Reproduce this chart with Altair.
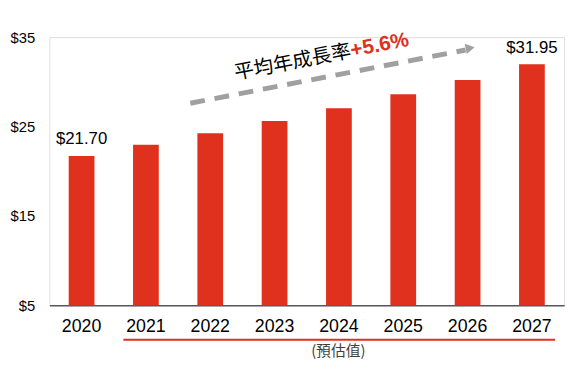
import altair as alt
import pandas as pd

years = ["2020", "2021", "2022", "2023", "2024", "2025", "2026", "2027"]
values = [21.70, 22.95, 24.25, 25.60, 27.05, 28.60, 30.20, 31.95]
value_labels = ["$21.70", "", "", "", "", "", "", "$31.95"]
y_ticks = [5, 15, 25, 35]

# annotation positions in data space (x: bar index, y: value)
arrow_x = [1.69, 5.97]
arrow_y = [27.6, 33.56]
arrow_head = (6.04, 33.78)
cagr_anchor = (4.2, 32.78)
cagr_text = "平均年成長率"
cagr_value = "+5.6%"
underline_x = [0.65, 7.36]
underline_y = 1.14
forecast_label = "(預估值)"
forecast_pos = (3.99, -0.1)

RED = "#E0301E"

df = pd.DataFrame({"year": years, "value": values, "label": value_labels, "base": [5] * len(years)})

yscale = alt.Scale(domain=[5, 35], zero=False, nice=False)
xnum = alt.Scale(domain=[-0.5, 7.5], nice=False, zero=False)

bars = alt.Chart(df).mark_bar(color=RED).encode(
    x=alt.X("year:N", sort=years, title=None,
            scale=alt.Scale(paddingInner=0.6, paddingOuter=0.3),
            axis=alt.Axis(labelAngle=0, ticks=False, labelFontSize=18, labelColor="#000000",
                          labelFont="Liberation Sans", labelPadding=13,
                          domainColor="#595959", domainWidth=1.5)),
    y=alt.Y("value:Q", scale=yscale, title=None,
            axis=alt.Axis(values=y_ticks, format="$d", grid=False, ticks=False, domain=False,
                          labelFontSize=15, labelColor="#000000", labelFont="Liberation Sans",
                          labelPadding=15)),
    y2="base:Q",
)

labels = alt.Chart(df).mark_text(baseline="bottom", dy=-8, fontSize=17,
                                 font="Liberation Sans", color="#000000").encode(
    x=alt.X("year:N", sort=years),
    y=alt.Y("value:Q", scale=yscale),
    text="label:N",
)

bar_layer = alt.layer(bars, labels)

arrow_df = pd.DataFrame({"x": arrow_x, "y": arrow_y})
arrow = alt.Chart(arrow_df).mark_line(color="#A0A0A0", strokeWidth=5, strokeDash=[15, 10]).encode(
    x=alt.X("x:Q", scale=xnum, axis=None),
    y=alt.Y("y:Q", scale=yscale),
)
head_df = pd.DataFrame({"x": [arrow_head[0]], "y": [arrow_head[1]]})
head = alt.Chart(head_df).mark_point(shape="triangle-right", filled=True, color="#A0A0A0",
                                     size=110, opacity=1, angle=349).encode(
    x=alt.X("x:Q", scale=xnum, axis=None),
    y=alt.Y("y:Q", scale=yscale),
)

txt_df = pd.DataFrame({"x": [cagr_anchor[0]], "y": [cagr_anchor[1]],
                       "t1": [cagr_text], "t2": [cagr_value]})
t_black = alt.Chart(txt_df).mark_text(align="right", baseline="alphabetic", angle=349,
                                      fontSize=20, font="Noto Sans CJK TC", color="#000000").encode(
    x=alt.X("x:Q", scale=xnum, axis=None),
    y=alt.Y("y:Q", scale=yscale),
    text="t1:N",
)
t_red = alt.Chart(txt_df).mark_text(align="left", baseline="alphabetic", angle=349,
                                    fontSize=21, font="Liberation Sans", fontWeight="bold",
                                    color=RED).encode(
    x=alt.X("x:Q", scale=xnum, axis=None),
    y=alt.Y("y:Q", scale=yscale),
    text="t2:N",
)

ul_df = pd.DataFrame({"x": [underline_x[0]], "x2": [underline_x[1]], "y": [underline_y]})
underline = alt.Chart(ul_df).mark_rule(color=RED, strokeWidth=2).encode(
    x=alt.X("x:Q", scale=xnum, axis=None),
    x2="x2:Q",
    y=alt.Y("y:Q", scale=yscale),
)

fc_df = pd.DataFrame({"x": [forecast_pos[0]], "y": [forecast_pos[1]], "t": [forecast_label]})
forecast = alt.Chart(fc_df).mark_text(fontSize=15, font="Noto Sans CJK TC", color="#404040",
                                      baseline="middle").encode(
    x=alt.X("x:Q", scale=xnum, axis=None),
    y=alt.Y("y:Q", scale=yscale),
    text="t:N",
)

annot = alt.layer(arrow, head, t_black, t_red, underline, forecast)

chart = alt.layer(bar_layer, annot).resolve_scale(x="independent").properties(
    width=522, height=272,
    padding={"left": 42, "top": 27, "right": 6, "bottom": 52},
    autosize=alt.AutoSizeParams(type="none"),
).configure_view(stroke=None).configure(background="white")

chart.save("out.html", embed_options={"renderer": "svg", "actions": False})
